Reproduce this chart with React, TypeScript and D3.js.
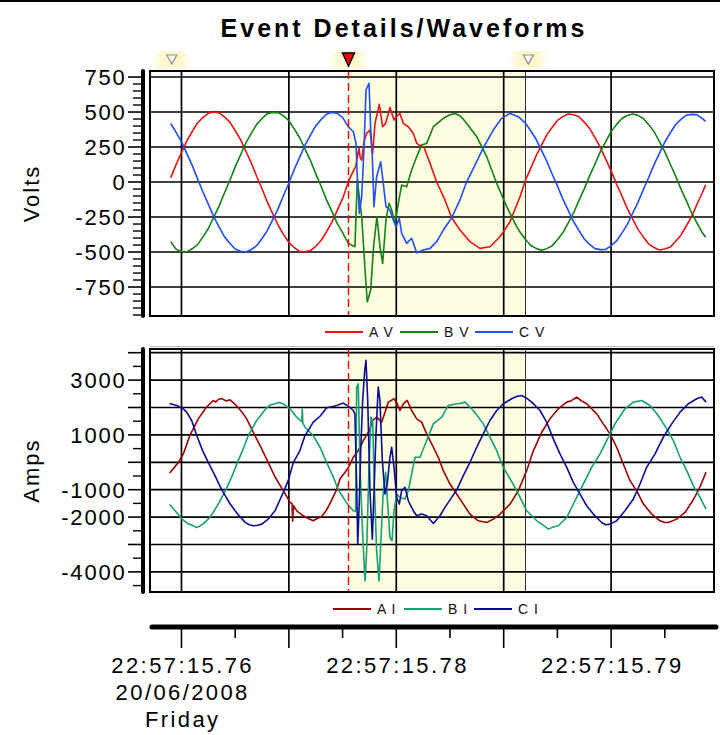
import React, { useEffect } from "react";
import * as d3 from "d3";

type P = [number, number];

const chartTitle = "Event Details/Waveforms";
const voltNames = ["A V", "B V", "C V"];
const ampNames = ["A I", "B I", "C I"];
const voltColors = ["#ee1111", "#128212", "#1f4dff"];
const ampColors = ["#a00000", "#16a075", "#0c0c9c"];

const voltMajorTicks = [750, 500, 250, 0, -250, -500, -750];
const voltMinorTicks = d3.range(-950, 800, 50).filter((v) => v % 250 !== 0);
const ampMajorTicks = [4000, 3000, 2000, 1000, 0, -1000, -2000, -3000, -4000];
const ampLabelTicks = [3000, 1000, -1000, -2000, -4000];
const ampMinorTicks = [3500, 2500, 1500, 500, -500, -1500, -2500, -3500, -4500];

const timeTicks = [0, 5, 10, 15, 20, 25, 30, 35, 40, 45];
const timeGridTicks = [0, 10, 20, 30, 40];
const timeLabelTicks = [0, 20, 40];
const timeLabelLines = [["22:57:15.76", "20/06/2008", "Friday"], ["22:57:15.78"], ["22:57:15.79"]];

const faultTime = 15.55;
const bandEndTime = 32.03;
const markerTimes = [-0.9, 15.55, 32.3];
const activeMarker = 1;

// time in ms, value in volts
const AV: P[] = [[-1.0,31],[-0.5,124],[0,210],[0.5,294],[1,361],[1.5,422],[2,462],[2.5,491],[3,500],[3.5,494],[4,466],[4.5,428],[5,368],[5.5,303],[6,220],[6.5,136],[7,41],[7.5,-48],[8,-144],[8.5,-227],[9,-309],[9.5,-374],[10,-432],[10.5,-468],[11,-495],[11.5,-498],[12,-490],[12.5,-459],[13,-418],[13.5,-355],[14,-288],[14.5,-203],[15,-119],[15.6,14],[16.0,80],[16.22,109],[16.4,190],[16.53,240],[16.65,170],[16.78,157],[17.0,290],[17.24,348],[17.55,371],[17.8,205],[18.02,419],[18.42,555],[18.73,395],[19.01,419],[19.41,533],[19.79,443],[20.05,470],[20.34,490],[20.65,419],[21.12,395],[21.58,348],[21.9,276],[22.2,262],[22.58,248],[23.14,133],[23.76,0],[24.53,-128],[25.16,-255],[25.93,-343],[26.86,-426],[27.79,-474],[28.72,-462],[29.66,-391],[30.59,-283],[31.52,-105],[32,7],[32.5,96],[33,184],[33.5,260],[34,335],[34.5,390],[35,440],[35.5,467],[36,486],[36.5,480],[37,466],[37.5,428],[38,383],[38.5,317],[39,248],[39.5,163],[40,80],[40.5,-13],[41,-98],[41.5,-188],[42,-264],[42.5,-338],[43,-392],[43.5,-442],[44,-468],[44.5,-486],[45,-479],[45.5,-465],[46,-425],[46.5,-380],[47,-314],[47.5,-245],[48,-159],[48.5,-75],[48.8,-20]];
const BV: P[] = [[-1.0,-426],[-0.5,-480],[0,-497],[0.5,-499],[1,-477],[1.5,-447],[2,-392],[2.5,-332],[3,-253],[3.5,-172],[4,-78],[4.5,11],[5,108],[5.5,193],[6,279],[6.5,348],[7,412],[7.5,454],[8,488],[8.5,497],[9,496],[9.5,472],[10,438],[10.5,380],[11,318],[11.5,237],[12,155],[12.5,60],[13,-30],[13.5,-126],[14,-210],[14.5,-295],[15,-361],[15.53,-438],[16.15,-462],[16.37,14],[16.78,-248],[17.09,-628],[17.3,-855],[17.62,-771],[17.88,-462],[18.2,-248],[18.48,-462],[18.73,-581],[19.04,-271],[19.32,-152],[19.57,-200],[19.88,-295],[20.19,-152],[20.5,-21],[20.97,-33],[21.43,86],[21.9,181],[22.36,264],[22.83,276],[23.45,395],[24.38,455],[25.0,480],[25.47,490],[26.0,470],[26.54,419],[27.49,324],[28.42,181],[29.35,-10],[30.28,-176],[31.21,-319],[31.5,-355],[32,-407],[32.5,-452],[33,-474],[33.5,-487],[34,-476],[34.5,-456],[35,-412],[35.5,-363],[36,-293],[36.5,-221],[37,-133],[37.5,-49],[38,44],[38.5,129],[39,217],[39.5,289],[40,360],[40.5,410],[41,454],[41.5,475],[42,486],[42.5,476],[43,454],[43.5,410],[44,360],[44.5,289],[45,217],[45.5,129],[46,44],[46.5,-49],[47,-133],[47.5,-221],[48,-293],[48.5,-363],[48.8,-394]];
const CV: P[] = [[-1.0,418],[-0.5,355],[0,288],[0.5,203],[1,119],[1.5,22],[2,-71],[2.5,-158],[3,-247],[3.5,-320],[4,-390],[4.5,-437],[5,-478],[5.5,-494],[6,-500],[6.5,-482],[7,-455],[7.5,-404],[8,-346],[8.5,-269],[9,-190],[9.5,-96],[10,-7],[10.5,90],[11,176],[11.5,263],[12,334],[12.5,401],[13,446],[13.5,484],[14,496],[14.5,490],[15,462],[15.53,395],[16.0,359],[16.25,276],[16.37,38],[16.56,-224],[16.78,-105],[17.0,252],[17.18,657],[17.46,705],[17.62,371],[17.77,181],[17.92,-176],[18.17,38],[18.55,145],[18.79,-10],[19.04,-176],[19.41,-200],[19.72,-271],[19.97,-319],[20.28,-260],[20.5,-367],[20.97,-438],[21.43,-402],[21.9,-505],[22.51,-486],[23.14,-474],[23.76,-426],[24.38,-343],[25.16,-255],[25.93,-128],[26.54,0],[27.33,121],[28.12,248],[29.03,371],[29.81,455],[30.59,490],[31.36,467],[32,423],[32.5,368],[33,307],[33.5,229],[34,150],[34.5,59],[35,-28],[35.5,-120],[36,-201],[36.5,-282],[37,-346],[37.5,-407],[38,-445],[38.5,-476],[39,-483],[39.5,-481],[40,-455],[40.5,-421],[41,-365],[41.5,-304],[42,-225],[42.5,-145],[43,-54],[43.5,32],[44,124],[44.5,205],[45,286],[45.5,350],[46,409],[46.5,447],[47,477],[47.5,483],[48,480],[48.5,453],[48.8,433]];

// time in ms, value in amps
const AI: P[] = [[-1.1,-390],[-0.3,-12],[0.17,305],[0.79,988],[1.2,1300],[1.56,1586],[2.28,1989],[2.96,2257],[3.2,2200],[3.43,2290],[3.74,2330],[4.14,2240],[4.52,2280],[4.9,2150],[5.29,1989],[5.7,1800],[6.07,1586],[6.84,976],[7.47,488],[8.08,-12],[8.71,-537],[9.42,-1000],[10.1,-1452],[10.3,-1520],[10.35,-2150],[10.42,-1580],[10.73,-1769],[11.34,-1952],[11.8,-2050],[12.27,-2135],[12.6,-2060],[13.05,-1980],[13.5,-1750],[13.83,-1500],[14.45,-1000],[14.76,-600],[15.2,-380],[15.6,-150],[16.0,183],[16.46,427],[16.93,793],[17.49,1159],[17.8,1525],[18.17,1647],[18.64,1464],[18.95,1830],[19.26,2196],[19.79,2318],[20.09,2135],[20.34,1891],[20.65,2135],[21.02,2257],[21.43,1891],[21.9,1586],[22.36,1464],[22.83,1037],[23.45,549],[23.91,183],[24.38,-305],[25.0,-793],[25.62,-1159],[26.24,-1525],[26.86,-1891],[27.63,-2135],[28.42,-2196],[29.03,-2074],[29.66,-1891],[30.59,-1525],[31.36,-1037],[32.14,-305],[32.77,427],[33.54,1098],[34.31,1586],[35.08,1952],[35.87,2196],[36.3,2250],[36.8,2379],[37.2,2250],[37.73,2135],[38.66,1769],[39.27,1403],[39.9,1037],[40.52,549],[41.13,-61],[41.76,-671],[42.38,-1037],[43.01,-1525],[43.78,-1891],[44.55,-2135],[45.0,-2200],[45.33,-2196],[46.11,-2074],[46.88,-1830],[47.5,-1464],[48.12,-1037],[48.84,-366]];
const BI: P[] = [[-1.1,-1537],[-0.61,-1757],[0.02,-2062],[0.63,-2245],[1.0,-2300],[1.42,-2379],[1.7,-2330],[2.03,-2245],[2.65,-2013],[3.43,-1525],[4.14,-1000],[4.67,-537],[5.2,-12],[5.75,488],[6.22,976],[7.0,1525],[7.93,1989],[8.3,2100],[8.71,2135],[9.1,2180],[9.48,2135],[10.1,1952],[10.73,1647],[11.2,1480],[11.25,1950],[11.3,1430],[11.5,1281],[12.27,976],[12.9,549],[13.52,-12],[14.08,-488],[14.6,-1000],[15.22,-1390],[15.6,-1600],[16.0,-1769],[16.22,-1793],[16.31,2745],[16.46,2867],[16.62,-183],[16.87,-2623],[17.09,-4331],[17.24,-3233],[17.46,-183],[17.64,1647],[17.8,1525],[17.95,-793],[18.17,-3233],[18.39,-4331],[18.58,-2745],[18.79,-1037],[19.01,-366],[19.2,-1525],[19.41,-2745],[19.6,-2867],[19.79,-1769],[20.04,-1159],[20.34,-1281],[20.81,-1342],[21.12,-1037],[21.43,-427],[21.74,183],[22.21,183],[22.83,793],[23.45,1403],[24.23,1647],[24.84,2074],[25.62,2135],[26.0,2150],[26.4,2196],[27.17,1891],[28.1,1403],[28.72,915],[29.35,427],[29.96,-183],[30.43,-488],[31.21,-1037],[32.14,-1769],[33.08,-2135],[33.7,-2300],[34.16,-2440],[34.6,-2360],[35.08,-2318],[35.87,-2013],[36.64,-1403],[37.41,-793],[38.19,-183],[38.97,305],[39.59,793],[40.36,1403],[41.29,1952],[42.07,2196],[42.85,2257],[43.62,2074],[44.39,1708],[45.18,1220],[45.79,793],[46.42,183],[47.04,-305],[47.65,-854],[48.28,-1281],[48.84,-1708]];
const CI: P[] = [[-1.1,2147],[-0.45,2074],[0.17,1952],[0.48,1830],[0.95,1525],[1.42,976],[1.97,427],[2.5,-12],[3.12,-488],[3.74,-1000],[4.52,-1513],[5.2,-1879],[5.91,-2184],[6.3,-2280],[6.69,-2318],[7.1,-2300],[7.47,-2257],[8.08,-2074],[8.71,-1769],[9.48,-1098],[9.94,-671],[10.41,-12],[11.03,427],[11.5,976],[12.27,1464],[12.9,1680],[13.52,1989],[14.0,2030],[14.45,2074],[15.07,2160],[15.6,2030],[16.0,1891],[16.15,1769],[16.31,-793],[16.41,-2989],[16.56,-1403],[16.69,427],[16.87,2257],[17.06,3355],[17.18,3721],[17.34,2257],[17.55,-1037],[17.77,-2806],[17.92,-1159],[18.11,1037],[18.32,2745],[18.48,2257],[18.7,61],[18.95,-1159],[19.16,-793],[19.41,183],[19.57,549],[19.79,-183],[20.04,-1281],[20.28,-1525],[20.5,-1037],[20.81,-915],[21.12,-1403],[21.58,-1769],[21.9,-1952],[22.36,-1891],[22.83,-1952],[23.45,-2233],[24.07,-1952],[24.53,-1647],[25.16,-1281],[25.62,-1013],[26.24,-488],[26.86,0],[27.49,549],[28.1,1037],[28.72,1525],[29.35,1891],[29.96,2135],[30.74,2318],[31.2,2400],[31.68,2440],[32.1,2350],[32.61,2196],[33.38,1891],[34.0,1464],[34.62,854],[35.24,305],[35.87,-183],[36.48,-732],[37.1,-1159],[37.73,-1586],[38.34,-1891],[39.12,-2196],[39.5,-2280],[39.9,-2257],[40.52,-2135],[41.29,-1769],[42.07,-1342],[42.69,-793],[43.31,-183],[44.09,305],[44.86,915],[45.64,1403],[46.42,1830],[47.19,2135],[47.97,2318],[48.44,2379],[48.84,2196]];

const voltSeries = [AV, BV, CV];
const ampSeries = [AI, BI, CI];

const W = 720;
const H = 735;
const X0 = 150;
const X1 = 714;
const AXIS_X = 143;
const FONT = "'Liberation Sans', Arial, Helvetica, sans-serif";

const x = d3.scaleLinear().domain([-2.93, 49.58]).range([X0, X1]);
const yV = d3.scaleLinear().domain([-957, 793]).range([316, 71]);
const yI = d3.scaleLinear().domain([-4734, 4135]).range([592, 349]);

type PanelProps = {
  id: string;
  yScale: d3.ScaleLinear<number, number>;
  series: P[][];
  colors: string[];
  majorTicks: number[];
  minorTicks: number[];
  labelTicks: number[];
  gridTicks: number[];
  axisTitle: string;
};

function Panel({ id, yScale, series, colors, majorTicks, minorTicks, labelTicks, gridTicks, axisTitle }: PanelProps) {
  const [yb, yt] = yScale.range();
  const line = d3
    .line<P>()
    .x((d) => x(d[0]))
    .y((d) => yScale(d[1]));
  const midY = (yt + yb) / 2;
  return (
    <g>
      <defs>
        <clipPath id={id}>
          <rect x={X0} y={yt} width={X1 - X0} height={yb - yt} />
        </clipPath>
      </defs>
      <rect x={X0} y={yt} width={X1 - X0} height={yb - yt} fill="#ffffff" />
      <rect x={x(faultTime)} y={yt} width={x(bandEndTime) - x(faultTime)} height={yb - yt} fill="#fdfde2" />
      {gridTicks.map((v) => (
        <line key={"h" + v} x1={X0} x2={X1} y1={yScale(v)} y2={yScale(v)} stroke="#000" strokeWidth={1.7} />
      ))}
      {timeGridTicks.map((t) => (
        <line key={"v" + t} x1={x(t)} x2={x(t)} y1={yt} y2={yb} stroke="#000" strokeWidth={1.7} />
      ))}
      <line x1={x(bandEndTime)} x2={x(bandEndTime)} y1={yt} y2={yb} stroke="#333" strokeWidth={1} />
      <g clipPath={`url(#${id})`}>
        {series.map((s, i) => (
          <path key={i} d={line(s) || ""} fill="none" stroke={colors[i]} strokeWidth={1.6} strokeLinejoin="round" />
        ))}
      </g>
      <line x1={x(faultTime)} x2={x(faultTime)} y1={yt} y2={yb} stroke="#ff0000" strokeWidth={1.4} strokeDasharray="8,4" />
      <rect x={X0} y={yt} width={X1 - X0} height={yb - yt} fill="none" stroke="#000" strokeWidth={2} />
      {/* left axis */}
      <line x1={AXIS_X} x2={AXIS_X} y1={yt} y2={yb} stroke="#000" strokeWidth={4} strokeLinecap="round" />
      {majorTicks.map((v) => (
        <line key={"mt" + v} x1={AXIS_X - 15} x2={AXIS_X} y1={yScale(v)} y2={yScale(v)} stroke="#000" strokeWidth={1.6} />
      ))}
      {minorTicks.map((v) => (
        <line key={"nt" + v} x1={AXIS_X - 10} x2={AXIS_X} y1={yScale(v)} y2={yScale(v)} stroke="#000" strokeWidth={1.4} />
      ))}
      {labelTicks.map((v) => (
        <text
          key={"lb" + v}
          x={126.5}
          y={yScale(v)}
          dy="0.36em"
          textAnchor="end"
          fontFamily={FONT}
          fontSize={22}
          style={{ letterSpacing: "1.8px" }}
          fill="#000"
        >
          {v}
        </text>
      ))}
      <text
        transform={`translate(39,${midY}) rotate(-90)`}
        textAnchor="middle"
        fontFamily={FONT}
        fontSize={22}
        style={{ letterSpacing: "2px" }}
        fill="#000"
      >
        {axisTitle}
      </text>
    </g>
  );
}

function Legend({ y, starts, names, colors }: { y: number; starts: number[]; names: string[]; colors: string[] }) {
  return (
    <g>
      {names.map((n, i) => (
        <g key={n}>
          <line x1={starts[i]} x2={starts[i] + 38} y1={y} y2={y} stroke={colors[i]} strokeWidth={2} />
          <text x={starts[i] + 44} y={y + 5} fontFamily={FONT} fontSize={14} style={{ letterSpacing: "1px" }} fill="#111">
            {n}
          </text>
        </g>
      ))}
    </g>
  );
}

export default function App() {
  useEffect(() => {
    document.body.style.margin = "0";
  }, []);
  const axisY = 627;
  return (
    <svg width={W} height={H} viewBox={`0 0 ${W} ${H}`} style={{ display: "block", position: "absolute", left: 0, top: 0, background: "#fff" }}>
      <defs>
        <linearGradient id="glow" x1="0" x2="1" y1="0" y2="0">
          <stop offset="0" stopColor="#fff6cc" stopOpacity={0} />
          <stop offset="0.3" stopColor="#fff6cc" stopOpacity={1} />
          <stop offset="0.7" stopColor="#fff6cc" stopOpacity={1} />
          <stop offset="1" stopColor="#fff6cc" stopOpacity={0} />
        </linearGradient>
      </defs>
      <rect x={0} y={0} width={W} height={H} fill="#fff" />
      <line x1={0} x2={W} y1={1} y2={1} stroke="#000" strokeWidth={2} />
      <text x={404} y={37} textAnchor="middle" fontFamily={FONT} fontWeight="bold" fontSize={25} style={{ letterSpacing: "3px" }} fill="#000">
        {chartTitle}
      </text>

      {markerTimes.map((t, i) => {
        const cx = x(t);
        return (
          <g key={"m" + i}>
            <rect x={cx - 20} y={51} width={40} height={17} fill="url(#glow)" />
            {i === activeMarker ? (
              <path d={`M${cx - 6},53 L${cx + 6},53 L${cx},66 Z`} fill="#ff0000" stroke="#000" strokeWidth={1.5} />
            ) : (
              <path d={`M${cx - 5},55 L${cx + 5},55 L${cx},64 Z`} fill="#fff" stroke="#8a8a8a" strokeWidth={1.2} />
            )}
          </g>
        );
      })}

      <Panel
        id="clipV"
        yScale={yV}
        series={voltSeries}
        colors={voltColors}
        majorTicks={voltMajorTicks}
        minorTicks={voltMinorTicks}
        labelTicks={voltMajorTicks}
        gridTicks={voltMajorTicks}
        axisTitle="Volts"
      />
      <Legend y={332} starts={[325, 400, 475]} names={voltNames} colors={voltColors} />
      <line x1={X0} x2={X1} y1={346.5} y2={346.5} stroke="#bbb" strokeWidth={1} />

      <Panel
        id="clipI"
        yScale={yI}
        series={ampSeries}
        colors={ampColors}
        majorTicks={ampMajorTicks}
        minorTicks={ampMinorTicks}
        labelTicks={ampLabelTicks}
        gridTicks={ampMajorTicks}
        axisTitle="Amps"
      />
      <Legend y={609} starts={[333, 404, 474]} names={ampNames} colors={ampColors} />

      {/* time axis */}
      <line x1={X0 + 2} x2={X1 + 2} y1={axisY} y2={axisY} stroke="#000" strokeWidth={5} strokeLinecap="round" />
      {timeTicks.map((t) => (
        <line
          key={"xt" + t}
          x1={x(t)}
          x2={x(t)}
          y1={axisY}
          y2={axisY + (t % 10 === 0 ? 21 : 11)}
          stroke="#000"
          strokeWidth={1.6}
        />
      ))}
      {timeLabelTicks.map((t, i) => (
        <text key={"xl" + t} x={x(t) + 1.2} textAnchor="middle" fontFamily={FONT} fontSize={22} style={{ letterSpacing: "2.4px" }} fill="#000">
          {timeLabelLines[i].map((s, j) => (
            <tspan key={j} x={x(t) + 1.2} y={673 + j * 27}>
              {s}
            </tspan>
          ))}
        </text>
      ))}
    </svg>
  );
}
